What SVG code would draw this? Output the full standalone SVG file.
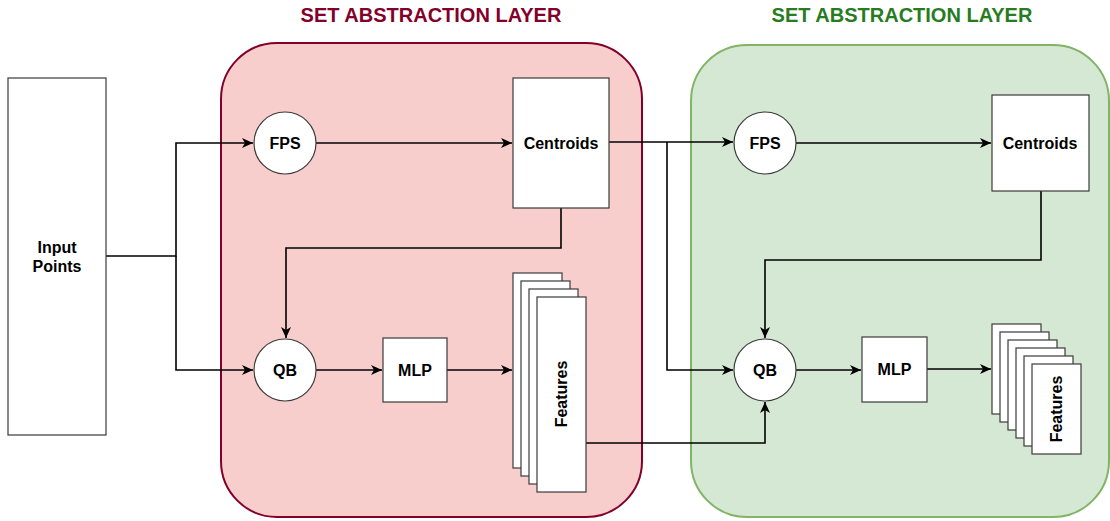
<svg xmlns="http://www.w3.org/2000/svg" width="1110" height="521" viewBox="0 0 1110 521">
  <style>
    .box { fill: #ffffff; stroke: #3a3a3a; stroke-width: 1.2; }
    .lbl { font-family: "Liberation Sans", Arial, sans-serif; font-weight: bold; font-size: 16px; fill: #000; text-anchor: middle; dominant-baseline: central; }
    .title { font-family: "Liberation Sans", Arial, sans-serif; font-weight: bold; font-size: 20px; text-anchor: middle; }
    .wire { fill: none; stroke: #000; stroke-width: 1.6; }
  </style>
  <defs>
    <marker id="arrow" markerUnits="userSpaceOnUse" markerWidth="14" markerHeight="12" refX="11" refY="5" orient="auto">
      <path d="M0,0 L11,5 L0,10 L3,5 Z" fill="#000"/>
    </marker>
  </defs>

  <rect width="1110" height="521" fill="#ffffff"/>

  <!-- layer containers -->
  <g id="layer1">
    <rect x="221" y="43" width="421" height="474" rx="56" ry="56" fill="#f8cecc" stroke="#82002a" stroke-width="2"/>
    <text class="title" x="431" y="22" fill="#82002a">SET ABSTRACTION LAYER</text>
  </g>
  <g id="layer2">
    <rect x="691" y="45" width="418" height="472" rx="56" ry="56" fill="#d5e8d4" stroke="#82b366" stroke-width="2"/>
    <text class="title" x="902" y="22" fill="#267c1e">SET ABSTRACTION LAYER</text>
  </g>

  <!-- connectors -->
  <g id="connectors">
    <path class="wire" d="M106,256 H176 V143 H253" marker-end="url(#arrow)"/>
    <path class="wire" d="M176,256 V370 H253" marker-end="url(#arrow)"/>
    <path class="wire" d="M316,143 H512" marker-end="url(#arrow)"/>
    <path class="wire" d="M561,208 V248 H286 V338" marker-end="url(#arrow)"/>
    <path class="wire" d="M316,370 H382" marker-end="url(#arrow)"/>
    <path class="wire" d="M447,370 H512" marker-end="url(#arrow)"/>
    <path class="wire" d="M609,142 H733" marker-end="url(#arrow)"/>
    <path class="wire" d="M667,142 V370 H733" marker-end="url(#arrow)"/>
    <path class="wire" d="M586,443 H765 V402" marker-end="url(#arrow)"/>
    <path class="wire" d="M796,143 H991" marker-end="url(#arrow)"/>
    <path class="wire" d="M1041,191 V260 H765 V338" marker-end="url(#arrow)"/>
    <path class="wire" d="M796,370 H861" marker-end="url(#arrow)"/>
    <path class="wire" d="M927,369 H991" marker-end="url(#arrow)"/>
  </g>

  <!-- nodes -->
  <g id="input-points">
    <rect class="box" x="8" y="78" width="98" height="357"/>
    <text class="lbl" x="57" y="247">Input</text>
    <text class="lbl" x="57" y="266">Points</text>
  </g>

  <g id="fps1">
    <circle class="box" cx="285" cy="143" r="31"/>
    <text class="lbl" x="285" y="143">FPS</text>
  </g>
  <g id="centroids1">
    <rect class="box" x="513" y="78" width="96" height="130"/>
    <text class="lbl" x="561" y="143">Centroids</text>
  </g>
  <g id="qb1">
    <circle class="box" cx="285" cy="370" r="31"/>
    <text class="lbl" x="285" y="370">QB</text>
  </g>
  <g id="mlp1">
    <rect class="box" x="383" y="338" width="64" height="64"/>
    <text class="lbl" x="415" y="370">MLP</text>
  </g>
  <g id="features1">
    <rect class="box" x="513" y="273" width="49" height="195"/>
    <rect class="box" x="521" y="281" width="49" height="195"/>
    <rect class="box" x="529" y="289" width="49" height="195"/>
    <rect class="box" x="537" y="297" width="49" height="195"/>
    <text class="lbl" transform="translate(561.5 394) rotate(-90)">Features</text>
  </g>

  <g id="fps2">
    <circle class="box" cx="765" cy="143" r="31"/>
    <text class="lbl" x="765" y="143">FPS</text>
  </g>
  <g id="centroids2">
    <rect class="box" x="992" y="95" width="97" height="96"/>
    <text class="lbl" x="1040" y="143">Centroids</text>
  </g>
  <g id="qb2">
    <circle class="box" cx="765" cy="370" r="31"/>
    <text class="lbl" x="765" y="370">QB</text>
  </g>
  <g id="mlp2">
    <rect class="box" x="862" y="337" width="65" height="65"/>
    <text class="lbl" x="894.5" y="369.5">MLP</text>
  </g>
  <g id="features2">
    <rect class="box" x="992" y="324" width="49" height="90"/>
    <rect class="box" x="1000" y="332" width="49" height="90"/>
    <rect class="box" x="1008" y="340" width="49" height="90"/>
    <rect class="box" x="1016" y="348" width="49" height="90"/>
    <rect class="box" x="1024" y="356" width="49" height="90"/>
    <rect class="box" x="1032" y="364" width="49" height="90"/>
    <text class="lbl" transform="translate(1056.5 409) rotate(-90)">Features</text>
  </g>
</svg>
